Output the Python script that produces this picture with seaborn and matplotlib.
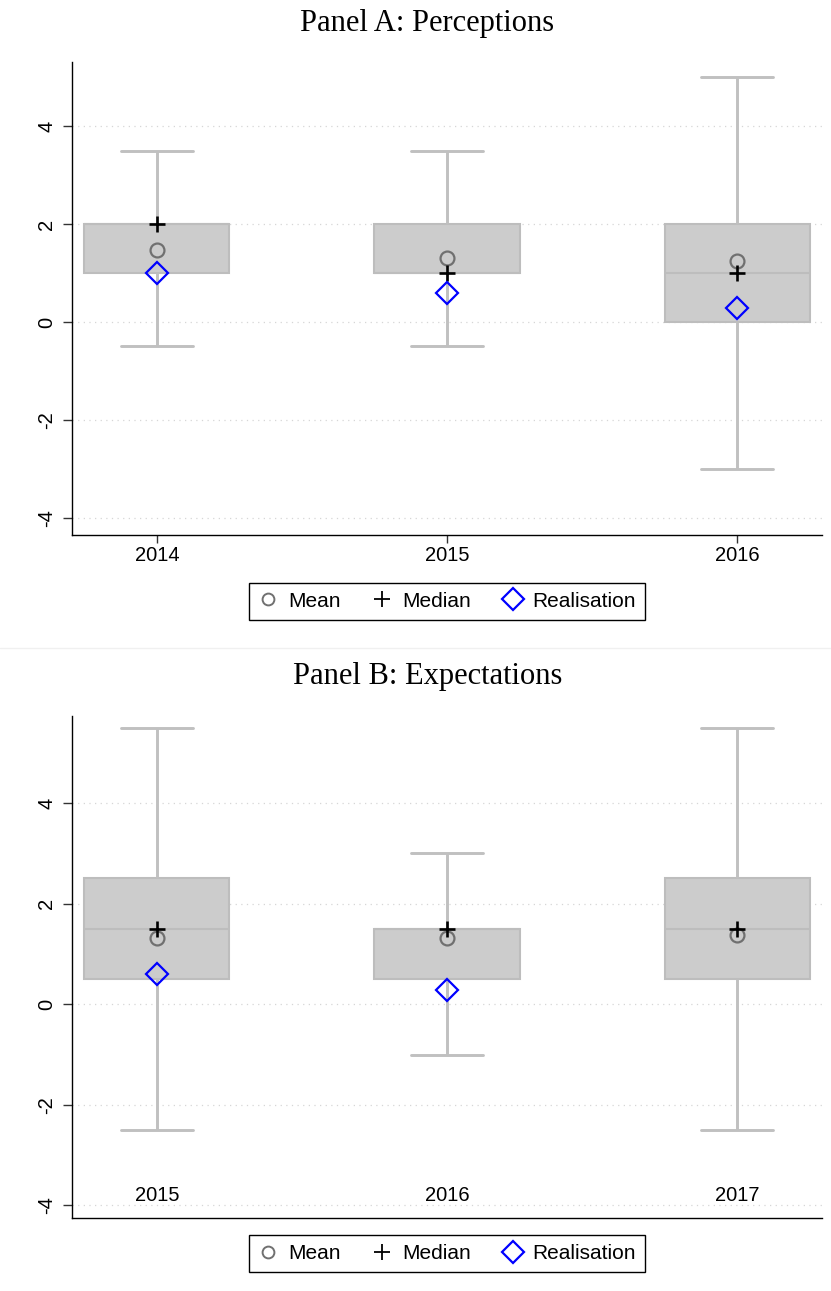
import numpy as np
import pandas as pd
import matplotlib
matplotlib.use("Agg")
import matplotlib.pyplot as plt
import seaborn as sns
from matplotlib.lines import Line2D

# ---------------- data ----------------
years_a = ["2014", "2015", "2016"]
lower_a = [-0.5, -0.5, -3.0]
q1_a = [1.0, 1.0, 0.0]
median_a = [2.0, 1.0, 1.0]
q3_a = [2.0, 2.0, 2.0]
upper_a = [3.5, 3.5, 5.0]
mean_a = [1.48, 1.31, 1.24]
real_a = [1.0, 0.6, 0.29]

years_b = ["2015", "2016", "2017"]
lower_b = [-2.5, -1.0, -2.5]
q1_b = [0.5, 0.5, 0.5]
median_b = [1.5, 1.5, 1.5]
q3_b = [2.5, 1.5, 2.5]
upper_b = [5.5, 3.0, 5.5]
mean_b = [1.31, 1.31, 1.38]
real_b = [0.6, 0.29, np.nan]

yticks = [-4, -2, 0, 2, 4]
legend_labels = ["Mean", "Median", "Realisation"]

# ---------------- style ----------------
sns.set_style("white")
plt.rcParams["font.family"] = ["Liberation Sans", "DejaVu Sans"]
plt.rcParams["text.color"] = "black"
plt.rcParams["xtick.color"] = "black"
plt.rcParams["ytick.color"] = "black"
plt.rcParams["xtick.labelcolor"] = "black"
plt.rcParams["ytick.labelcolor"] = "black"

BOX_FACE = "#cccccc"
BOX_EDGE = "#bdbdbd"
WHISK = "#c0c0c0"
MEAN_C = "#707070"
W, H = 831, 1291
fig = plt.figure(figsize=(W / 100, H / 100), dpi=100)


def fy(px):
    return 1 - px / H


def fx(px):
    return px / W


def panel(ax, years, lo, q1, med, q3, hi, mean, real, ylim, inside_labels):
    box_df = pd.DataFrame({
        "year": np.repeat(years, 5),
        "value": np.column_stack([lo, q1, med, q3, hi]).ravel(),
    })
    sns.boxplot(data=box_df, x="year", y="value", order=years, width=0.5,
                whis=(0, 100), color=BOX_FACE, linecolor=BOX_EDGE,
                linewidth=1.5, saturation=1, showfliers=False,
                whiskerprops={"linewidth": 2.1, "color": WHISK},
                capprops={"linewidth": 2.1, "color": WHISK},
                medianprops={"linewidth": 1.5, "color": BOX_EDGE},
                ax=ax)
    st = pd.DataFrame({"year": years, "mean": mean, "median": med, "real": real})
    sns.pointplot(data=st, x="year", y="mean", order=years, errorbar=None,
                  linestyle="none", marker="o", markersize=10,
                  markerfacecolor="none", markeredgecolor=MEAN_C,
                  markeredgewidth=1.6, color=MEAN_C, zorder=4, ax=ax)
    sns.pointplot(data=st, x="year", y="median", order=years, errorbar=None,
                  linestyle="none", marker="+", markersize=12,
                  markeredgewidth=1.9, color="black", zorder=5, ax=ax)
    sns.pointplot(data=st.dropna(subset=["real"]), x="year", y="real",
                  order=years, errorbar=None, linestyle="none", marker="D",
                  markersize=11.5, markerfacecolor="none",
                  markeredgecolor="blue", markeredgewidth=1.6, color="blue",
                  zorder=6, ax=ax)

    ax.set_xlim(-0.293, 2.293)
    ax.set_ylim(*ylim)
    ax.set_yticks(yticks)
    ax.set_yticklabels([str(t) for t in yticks], rotation=90, va="center")
    ax.set_xlabel("")
    ax.set_ylabel("")
    ax.yaxis.grid(True, linestyle=(0, (1, 3.5)), color="#d6d6d6", linewidth=0.9)
    ax.xaxis.grid(False)
    ax.set_axisbelow(True)
    for s in ["top", "right"]:
        ax.spines[s].set_visible(False)
    for s in ["left", "bottom"]:
        ax.spines[s].set_color("black")
        ax.spines[s].set_linewidth(1.0)
    ax.tick_params(axis="y", length=6.5, width=1.0, color="#333333",
                   labelcolor="black", pad=5, labelsize=14.5,
                   direction="out", left=True)
    if inside_labels:
        ax.tick_params(axis="x", length=0, pad=-23, labelsize=14.5,
                       labelcolor="black", bottom=True)
    else:
        ax.tick_params(axis="x", length=6, width=1.0, color="#333333",
                       labelcolor="black", pad=2, labelsize=14.5,
                       direction="out", bottom=True)


# Panel A
axA = fig.add_axes([fx(72), fy(535), fx(822) - fx(72), fy(62) - fy(535)])
panel(axA, years_a, lower_a, q1_a, median_a, q3_a, upper_a, mean_a, real_a,
      (-4.35, 5.31), False)

# Panel B
axB = fig.add_axes([fx(72), fy(1218), fx(822) - fx(72), fy(716) - fy(1218)])
panel(axB, years_b, lower_b, q1_b, median_b, q3_b, upper_b, mean_b, real_b,
      (-4.25, 5.73), True)

handles = [
    Line2D([], [], linestyle="none", marker="o", markersize=8.5,
           markerfacecolor="none", markeredgecolor=MEAN_C, markeredgewidth=1.4),
    Line2D([], [], linestyle="none", marker="+", markersize=12,
           color="black", markeredgewidth=1.3),
    Line2D([], [], linestyle="none", marker="D", markersize=11,
           markerfacecolor="none", markeredgecolor="blue", markeredgewidth=1.6),
]

for ax, off in [(axA, -0.1015), (axB, -0.034)]:
    leg = ax.legend(handles, legend_labels, loc="upper center",
                    bbox_to_anchor=(0.5, off), ncol=3, frameon=True,
                    fancybox=False, framealpha=1, edgecolor="black",
                    fontsize=15, handlelength=1.0, handletextpad=0.45,
                    columnspacing=1.5, borderpad=0.42, borderaxespad=0,
                    labelcolor="black")
    leg.get_frame().set_linewidth(1.0)

fig.text(fx(427.5), fy(23), "Panel A: Perceptions", ha="center", va="center",
         family=["Liberation Serif", "DejaVu Serif"], fontsize=22,
         color="black")
fig.text(fx(427.5), fy(676), "Panel B: Expectations", ha="center", va="center",
         family=["Liberation Serif", "DejaVu Serif"], fontsize=22,
         color="black")
fig.add_artist(Line2D([0, 1], [fy(648), fy(648)], transform=fig.transFigure,
                      color="#f0f0f0", linewidth=1))

fig.savefig("out.png", dpi=100)
